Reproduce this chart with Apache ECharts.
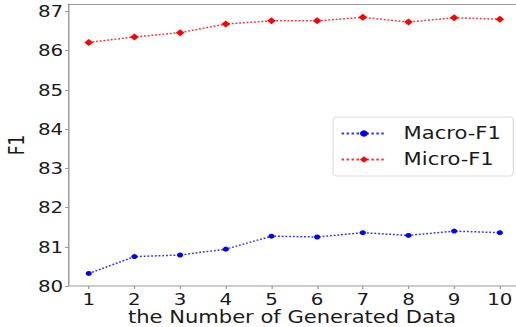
<!DOCTYPE html>
<html><head><meta charset="utf-8">
<script src="https://cdn.jsdelivr.net/npm/echarts@6/dist/echarts.min.js"></script>
<style>
html,body{margin:0;padding:0;background:#fff;overflow:hidden}
#wrap{width:516px;height:327px;overflow:hidden}
#c{width:416px;height:327px;transform:scaleX(1.24);transform-origin:0 0}
</style>
</head><body><div id="wrap"><div id="c"></div></div>
<script>
const xValues = [1,2,3,4,5,6,7,8,9,10];
const macroF1 = [80.32,80.75,80.79,80.94,81.27,81.25,81.36,81.29,81.40,81.36];
const microF1 = [86.21,86.35,86.46,86.68,86.76,86.76,86.85,86.73,86.84,86.80];
const yTicks = [80,81,82,83,84,85,86,87];
const F = 'DejaVu Sans';
const TXT = '#1a1a1a';
const chart = echarts.init(document.getElementById('c'), null, {renderer:'svg'});
chart.setOption({
  animation:false,
  grid:{left:55, top:4, right:0, bottom:41, outerBoundsMode:'none', containLabel:false},
  xAxis:[{type:'value', min:0.55, max:10.35,
    name:'the Number of Generated Data', nameLocation:'middle', nameGap:24, nameMoveOverlap:false,
    nameTextStyle:{fontFamily:F, fontSize:17, lineHeight:14, color:TXT},
    axisLine:{lineStyle:{color:'#bbb', width:1.5}},
    axisTick:{show:true, length:3, lineStyle:{color:'#999'}, customValues:xValues},
    axisLabel:{fontFamily:F, fontSize:16, lineHeight:14, color:TXT, margin:6, customValues:xValues},
    splitLine:{show:false}},
   {type:'value', position:'top', min:0.55, max:10.35,
    axisLine:{show:true, lineStyle:{color:'#999', width:1}},
    axisTick:{show:false}, axisLabel:{show:false}, splitLine:{show:false}}],
  yAxis:{type:'value', min:80, max:87.19,
    name:'F1', nameLocation:'middle', nameGap:33, nameMoveOverlap:false,
    nameTextStyle:{fontFamily:F, fontSize:17, lineHeight:17, color:TXT},
    axisLine:{show:true, lineStyle:{color:'#888', width:1}},
    axisTick:{show:true, length:2.5, lineStyle:{color:'#999'}, customValues:yTicks},
    axisLabel:{fontFamily:F, fontSize:16, color:TXT, margin:4, customValues:yTicks},
    splitLine:{show:false}},
  legend:{left:268.5, top:117, orient:'vertical', itemWidth:36, itemHeight:8, itemGap:9,
    padding:[8,10,8,6], borderColor:'#ddd', borderWidth:1, borderRadius:3, backgroundColor:'#fff',
    textStyle:{fontFamily:F, fontSize:17, color:TXT, padding:[0,0,0,9]},
    data:['Macro-F1','Micro-F1']},
  series:[
    {name:'Macro-F1', type:'line', xAxisIndex:0, data:xValues.map((x,i)=>[x,macroF1[i]]),
     symbol:'circle', symbolSize:5, color:'#0000ff',
     lineStyle:{type:'dotted', width:1.5, color:'#0000ff', opacity:0.8},
     itemStyle:{color:'#0000ff'}},
    {name:'Micro-F1', type:'line', xAxisIndex:0, data:xValues.map((x,i)=>[x,microF1[i]]),
     symbol:'diamond', symbolSize:7, color:'#ff0000',
     lineStyle:{type:'dotted', width:1.5, color:'#ff0000', opacity:0.8},
     itemStyle:{color:'#ff0000'}}
  ]
});
</script></body></html>
